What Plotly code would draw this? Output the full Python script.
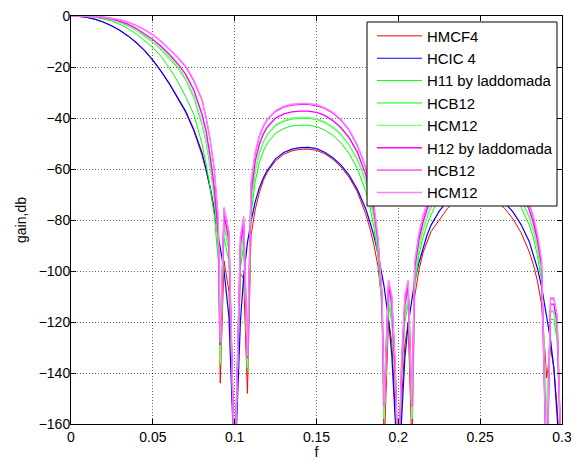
import plotly.graph_objects as go

# normalized frequency grid (85 points)
F = [
    0, 0.005, 0.01, 0.015, 0.02, 0.025, 0.03, 0.035, 0.04, 0.045,
    0.05, 0.055, 0.06, 0.065, 0.07, 0.075, 0.08, 0.0825, 0.085, 0.0875,
    0.09, 0.0912, 0.0935, 0.0965, 0.1, 0.1035, 0.1055, 0.1078, 0.11, 0.1125,
    0.115, 0.1175, 0.12, 0.125, 0.13, 0.135, 0.14, 0.145, 0.15, 0.155,
    0.16, 0.165, 0.17, 0.175, 0.1775, 0.18, 0.1825, 0.185, 0.1875, 0.19,
    0.1913, 0.194, 0.196, 0.198, 0.2, 0.202, 0.204, 0.206, 0.2083, 0.21,
    0.2125, 0.215, 0.2175, 0.22, 0.225, 0.23, 0.235, 0.24, 0.245, 0.25,
    0.255, 0.26, 0.265, 0.27, 0.275, 0.28, 0.2825, 0.285, 0.2875, 0.2907,
    0.293, 0.295, 0.297, 0.2994, 0.3,
]

HMCF4 = [
    0, -0.15, -0.6, -1.35, -2.45, -3.9, -5.7, -7.9, -10.5, -13.6,
    -17.4, -21.7, -26.6, -31.9, -37.7, -45, -54.5, -60.5, -67, -75,
    -88, -144, -96, -108, -180, -101, -103, -148, -86, -76,
    -69.5, -64.5, -61.2, -56.8, -54.2, -52.9, -52.3, -52.2, -52.7, -54,
    -56.2, -59.2, -63.3, -69, -73, -77.5, -83, -89.5, -98, -112,
    -170, -119, -128, -150, -180, -151, -129, -120, -170, -110,
    -100, -93, -88.5, -84.5, -80, -75.5, -72, -70.3, -69.5, -69.6,
    -70.5, -72.5, -75.5, -79.5, -85, -92.5, -97.5, -104, -113, -142,
    -130, -138, -153, -185, -185,
]

HCIC4 = [
    0, -0.15, -0.6, -1.35, -2.45, -3.9, -5.7, -7.9, -10.5, -13.6,
    -17.3, -21.6, -26.4, -31.6, -37.3, -44.5, -53.5, -60, -67.5, -76.5,
    -86, -91, -100, -118, -180, -120, -102, -89, -80.5, -73,
    -67.5, -63.5, -60.5, -56, -53.5, -52.2, -51.6, -51.5, -52, -53.4,
    -55.6, -58.5, -62.5, -68, -71.5, -75.5, -80.5, -86, -93, -101,
    -106, -119, -133, -157, -180, -158, -134, -121, -110, -104,
    -97, -91, -86, -82, -76.5, -72.5, -70, -68.3, -67.6, -67.8,
    -68.7, -70.5, -73.2, -76.8, -81.8, -88.5, -93.5, -99, -106, -118,
    -127, -138, -155, -185, -185,
]

H11 = [
    0, -0.01, -0.15, -0.5, -1.1, -2.0, -3.3, -5.0, -7.1, -9.6,
    -12.4, -15.8, -20.3, -25.5, -31.5, -38.5, -50, -58, -67, -78,
    -96, -134, -87, -96, -180, -99, -90, -139, -78, -65,
    -57.7, -53, -49.8, -46, -44.1, -43.1, -42.8, -42.8, -43.4, -44.7,
    -46.8, -49.8, -54, -60, -64, -68.5, -74.5, -82.5, -94, -115,
    -158, -113, -120, -143, -180, -143, -120, -113, -158, -106,
    -94, -87, -82, -78, -71, -66, -63, -61, -60, -60,
    -60.5, -62, -65, -69, -75, -82, -87, -94, -104, -160,
    -119, -119, -127, -185, -185,
]

HCB12_G = [
    0, 0, -0.08, -0.3, -0.75, -1.45, -2.5, -3.9, -5.7, -7.9,
    -10.4, -13.3, -16.6, -20.2, -25, -32, -42.5, -49.5, -59, -71,
    -90, -137, -82, -92, -180, -95, -85, -139, -74, -61,
    -54, -49.6, -46.7, -43, -41.3, -40.4, -40.1, -40.1, -40.6, -41.8,
    -43.8, -46.7, -50.8, -56.5, -60.5, -65, -71, -79, -91, -113,
    -158, -110, -117, -141, -180, -141, -117, -110, -158, -103,
    -91, -84, -79, -75, -68, -63, -60, -58, -57, -57,
    -57.5, -59, -62, -66, -72, -79, -84, -91, -101, -160,
    -116, -116, -124, -185, -185,
]

HCM12_G = [
    0, 0, -0.07, -0.28, -0.7, -1.4, -2.4, -3.75, -5.5, -7.6,
    -10.1, -12.9, -16.1, -19.7, -24.4, -31.2, -41.5, -48.5, -58, -70,
    -89, -136, -81, -91, -180, -94, -84, -138, -73, -60.5,
    -53.5, -49.2, -46.3, -42.6, -40.9, -40.0, -39.8, -39.8, -40.3, -41.5,
    -43.5, -46.3, -50.4, -56, -60, -64.5, -70.5, -78.5, -90.5, -112,
    -158, -109.5, -116.5, -140, -180, -140, -116.5, -109.5, -158, -102.5,
    -90.5, -83.5, -78.5, -74.5, -67.5, -62.5, -59.5, -57.5, -56.5, -56.5,
    -57, -58.5, -61.5, -65.5, -71.5, -78.5, -83.5, -90.5, -100.5, -160,
    -115.5, -115.5, -123.5, -185, -185,
]

H12 = [
    0, 0, -0.05, -0.22, -0.6, -1.2, -2.1, -3.3, -4.9, -6.9,
    -9.2, -11.9, -15, -18.6, -22.8, -29, -38.5, -45, -55, -67,
    -86, -129, -78, -88, -180, -90, -81, -134, -70, -57,
    -50.5, -46.3, -43.5, -40, -38.4, -37.6, -37.3, -37.3, -37.8, -39,
    -41, -43.8, -47.8, -53.5, -57.5, -62, -68, -76, -88, -110,
    -153, -106, -113, -138, -180, -138, -113, -106, -153, -99,
    -88, -81, -76, -72, -65, -60, -57, -55, -54, -54,
    -54.5, -56, -59, -63, -69, -76, -81, -88, -98, -185,
    -113, -113, -120, -185, -185,
]

HCB12_M = [
    0, 0, -0.03, -0.15, -0.4, -0.85, -1.5, -2.5, -3.8, -5.5,
    -7.5, -10, -13, -16.3, -20, -25.5, -33, -40, -48.5, -60,
    -80, -129, -75.5, -85, -180, -87, -79, -134, -66, -54,
    -47.5, -43.5, -40.8, -37.5, -35.8, -35, -34.7, -34.7, -35.2, -36.3,
    -38.2, -41, -45, -51, -55, -59.5, -65.5, -74, -87, -109,
    -153, -104, -110, -135, -180, -135, -110, -104, -153, -97,
    -86, -79, -74, -70, -63, -58, -55, -53, -52, -52,
    -52.5, -54, -57, -61, -67, -74, -79, -86, -96, -185,
    -111, -111, -118, -185, -185,
]

HCM12_M = [
    0, 0, -0.03, -0.14, -0.38, -0.8, -1.45, -2.4, -3.7, -5.35,
    -7.3, -9.8, -12.7, -16, -19.6, -25, -32.5, -39.5, -48, -59.5,
    -79.5, -128, -75, -84.5, -180, -86.5, -78.5, -133.5, -65.5, -53.5,
    -47, -43, -40.4, -37.1, -35.4, -34.6, -34.3, -34.3, -34.8, -35.9,
    -37.8, -40.6, -44.6, -50.6, -54.6, -59, -65, -73.5, -86.5, -108.5,
    -153, -103.5, -109.5, -134.5, -180, -134.5, -109.5, -103.5, -153, -96.5,
    -85.5, -78.5, -73.5, -69.5, -62.5, -57.5, -54.5, -52.5, -51.5, -51.5,
    -52, -53.5, -56.5, -60.5, -66.5, -73.5, -78.5, -85.5, -95.5, -185,
    -110.5, -110.5, -117.5, -185, -185,
]

NAMES = ["HMCF4", "HCIC 4", "H11 by laddomada", "HCB12", "HCM12",
         "H12 by laddomada", "HCB12", "HCM12"]
SERIES = [HMCF4, HCIC4, H11, HCB12_G, HCM12_G, H12, HCB12_M, HCM12_M]
COLORS = ["#ff0000", "#0000ff", "#00ff00", "#00ff00", "#7dff7d",
          "#ff00ff", "#ff00ff", "#ff7dff"]
WIDTHS = [1, 1.2, 1, 1, 1.4, 1.4, 1, 1.4]

XTICKS = [0, 0.05, 0.1, 0.15, 0.2, 0.25, 0.3]
XTICKTEXT = ["0", "0.05", "0.1", "0.15", "0.2", "0.25", "0.3"]
YTICKS = [0, -20, -40, -60, -80, -100, -120, -140, -160]

FONT = "Liberation Sans, Arial, Helvetica, sans-serif"

fig = go.Figure()
for name, ys, col, w in zip(NAMES, SERIES, COLORS, WIDTHS):
    fig.add_trace(go.Scatter(x=F, y=ys, mode="lines", name=name,
                             line=dict(color=col, width=w)))

axis_common = dict(
    showline=True, linecolor="black", linewidth=1, mirror="ticks",
    ticks="inside", ticklen=5, tickcolor="black",
    showgrid=True, gridcolor="rgba(0,0,0,0.6)", griddash="1px,2px",
    gridwidth=1, zeroline=False, automargin=False,
    ticklabeloverflow="allow",
    tickfont=dict(family=FONT, size=14, color="black"),
)

# legend frame (white box with black border) drawn behind the legend entries
fig.add_shape(type="rect", xref="paper", yref="paper",
              x0=0.6029, x1=0.9898, y0=0.5343, y1=0.9853,
              fillcolor="white", line=dict(color="black", width=1),
              layer="above")

# the page body adds an 8 px offset, so margins/size are reduced accordingly
fig.update_layout(
    width=571, height=452,
    margin=dict(l=63, r=17, t=8, b=36),
    paper_bgcolor="white", plot_bgcolor="white",
    font=dict(family=FONT, size=14, color="black"),
    xaxis=dict(range=[0, 0.3], tickvals=XTICKS, ticktext=XTICKTEXT,
               ticklabelstandoff=0,
               title=dict(text="f", standoff=1,
                          font=dict(family=FONT, size=14)),
               **axis_common),
    yaxis=dict(range=[-160, 0], tickvals=YTICKS,
               ticklabelstandoff=-3,
               title=dict(text="gain,db", standoff=8,
                          font=dict(family=FONT, size=14)),
               **axis_common),
    legend=dict(x=0.613, y=0.991, xanchor="left", yanchor="top",
                bgcolor="rgba(0,0,0,0)", borderwidth=0,
                font=dict(family=FONT, size=14.9, color="black"),
                itemwidth=45, tracegroupgap=0),
    showlegend=True,
)

fig.write_html("out.html")
